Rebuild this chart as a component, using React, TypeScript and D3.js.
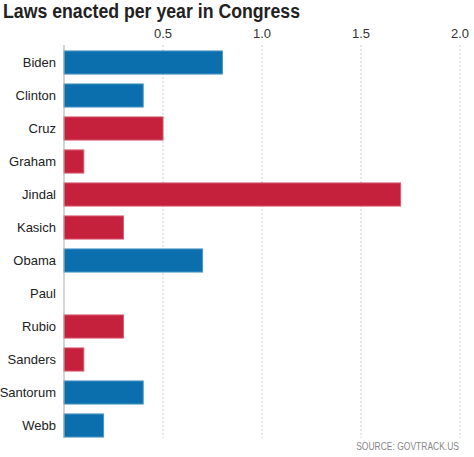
import { useEffect, useRef } from "react";
import * as d3 from "d3";

const names = ["Biden", "Clinton", "Cruz", "Graham", "Jindal", "Kasich", "Obama", "Paul", "Rubio", "Sanders", "Santorum", "Webb"];
const laws = [0.8, 0.4, 0.5, 0.1, 1.7, 0.3, 0.7, 0, 0.3, 0.1, 0.4, 0.2];
// colour group as shown in the picture
const group = ["blue", "blue", "red", "red", "red", "red", "blue", "red", "red", "red", "blue", "blue"];
const ticks = [0.5, 1.0, 1.5, 2.0];

const W = 474;
const H = 457;

const App = () => {
  const svgRef = useRef<SVGSVGElement | null>(null);

  useEffect(() => {
    const svg = d3.select(svgRef.current);
    svg.selectAll("*").remove();

    const font = "'Liberation Sans', Arial, sans-serif";
    const x = d3.scaleLinear().domain([0, 2]).range([64, 460]);
    const y = d3.scaleBand().domain(names).range([46, 442]).paddingInner(0.3).paddingOuter(0.15);

    // title (condensed face in the original, squeeze to fit)
    svg.append("text")
      .attr("x", 3)
      .attr("y", 18)
      .attr("font-family", font)
      .attr("font-size", 20)
      .attr("font-weight", "bold")
      .attr("fill", "#222")
      .attr("textLength", 297)
      .attr("lengthAdjust", "spacingAndGlyphs")
      .text("Laws enacted per year in Congress");

    // grid
    svg.selectAll(".grid")
      .data(ticks)
      .enter()
      .append("line")
      .attr("x1", d => x(d))
      .attr("x2", d => x(d))
      .attr("y1", 45)
      .attr("y2", 438)
      .attr("stroke", "#ccc")
      .attr("stroke-dasharray", "2,2");

    svg.selectAll(".tick")
      .data(ticks)
      .enter()
      .append("text")
      .attr("x", d => x(d))
      .attr("y", 38)
      .attr("text-anchor", "middle")
      .attr("font-family", font)
      .attr("font-size", 13)
      .attr("fill", "#333")
      .text(d => d.toFixed(1));

    // bars
    svg.selectAll(".bar")
      .data(names)
      .enter()
      .append("rect")
      .attr("x", x(0))
      .attr("y", d => y(d)!)
      .attr("width", (d, i) => x(laws[i]) - x(0))
      .attr("height", y.bandwidth())
      .attr("fill", (d, i) => (group[i] === "blue" ? "#0b6fad" : "#c5203c"))
      .attr("stroke", (d, i) => (group[i] === "blue" ? "#4c95c6" : "#d8586e"))
      .attr("stroke-width", 1)
      .style("display", (d, i) => (laws[i] > 0 ? null : "none"));

    svg.selectAll(".name")
      .data(names)
      .enter()
      .append("text")
      .attr("x", 56)
      .attr("y", d => y(d)! + y.bandwidth() / 2)
      .attr("dy", "0.35em")
      .attr("text-anchor", "end")
      .attr("font-family", font)
      .attr("font-size", 13)
      .attr("fill", "#222")
      .text(d => d);

    // axis line
    svg.append("line")
      .attr("x1", x(0))
      .attr("x2", x(0))
      .attr("y1", 45)
      .attr("y2", 438)
      .attr("stroke", "#aaa")
      .attr("stroke-width", 1);

    // source note, narrowed with a horizontal scale
    svg.append("text")
      .attr("transform", "translate(459,450) scale(0.85,1)")
      .attr("text-anchor", "end")
      .attr("font-family", font)
      .attr("font-size", 10)
      .attr("fill", "#888")
      .text("SOURCE: GOVTRACK.US");
  }, []);

  return (
    <div style={{ position: "absolute", left: 0, top: 0, width: W, height: H }}>
      <svg ref={svgRef} width={W} height={H} style={{ display: "block", background: "#fff" }}></svg>
    </div>
  );
};

export default App;
